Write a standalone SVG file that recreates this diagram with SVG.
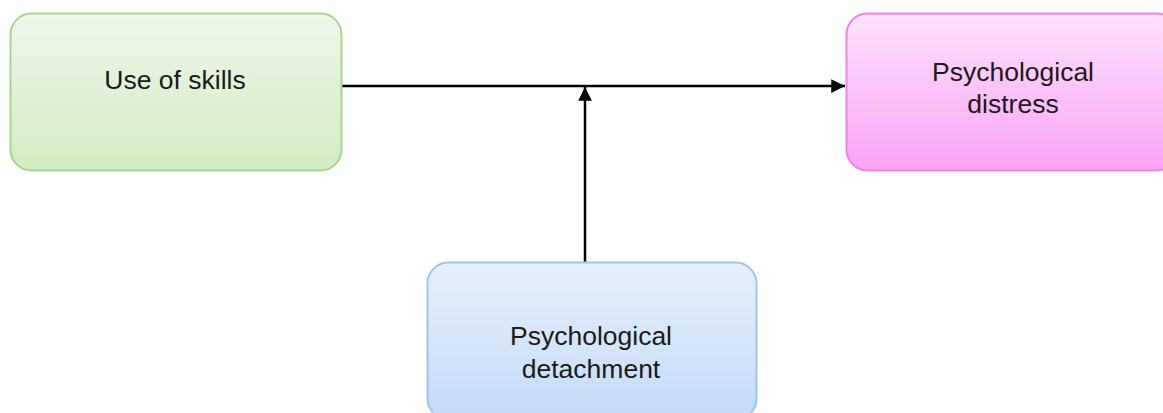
<svg xmlns="http://www.w3.org/2000/svg" width="1163" height="413" viewBox="0 0 1163 413">
<defs>
<linearGradient id="gGreen" x1="0" y1="0" x2="0" y2="1"><stop offset="0" stop-color="#eef7e9"/><stop offset="1" stop-color="#d3ecc2"/></linearGradient>
<linearGradient id="gPink" x1="0" y1="0" x2="0" y2="1"><stop offset="0" stop-color="#fde2fc"/><stop offset="1" stop-color="#f8a4f5"/></linearGradient>
<linearGradient id="gBlue" x1="0" y1="0" x2="0" y2="1"><stop offset="0" stop-color="#e7f1fc"/><stop offset="1" stop-color="#c2dbf7"/></linearGradient>
<marker id="arr" viewBox="0 0 10 10" refX="10" refY="5" markerWidth="6" markerHeight="5.5" orient="auto" markerUnits="strokeWidth"><path d="M0,0 L10,5 L0,10 z" fill="#000"/></marker>
</defs>
<style>
.lbl{font-family:"Liberation Sans",Arial,sans-serif;font-size:26.5px;fill:#1a1a1a;text-anchor:middle}
.edge{stroke:#000;stroke-width:2.5;fill:none}
</style>
<rect width="1163" height="413" fill="#fff"/>
<g id="connectors">
<line class="edge" x1="341" y1="86" x2="845" y2="86" marker-end="url(#arr)"/>
<line class="edge" x1="585" y1="262" x2="585" y2="87" marker-end="url(#arr)"/>
</g>
<g id="node-skills">
<rect x="10.5" y="13.5" width="331" height="157" rx="21" fill="url(#gGreen)" stroke="#a8d58e" stroke-width="2"/>
<text class="lbl" x="175" y="89">Use of skills</text>
</g>
<g id="node-distress">
<rect x="846.5" y="13.5" width="331" height="157" rx="21" fill="url(#gPink)" stroke="#ec84ea" stroke-width="2"/>
<text class="lbl" x="1013" y="81">Psychological</text>
<text class="lbl" x="1013" y="113">distress</text>
</g>
<g id="node-detachment">
<rect x="427.5" y="262.5" width="329" height="157" rx="21" fill="url(#gBlue)" stroke="#9fc4e9" stroke-width="2"/>
<text class="lbl" x="591" y="345">Psychological</text>
<text class="lbl" x="591" y="378">detachment</text>
</g>
</svg>
